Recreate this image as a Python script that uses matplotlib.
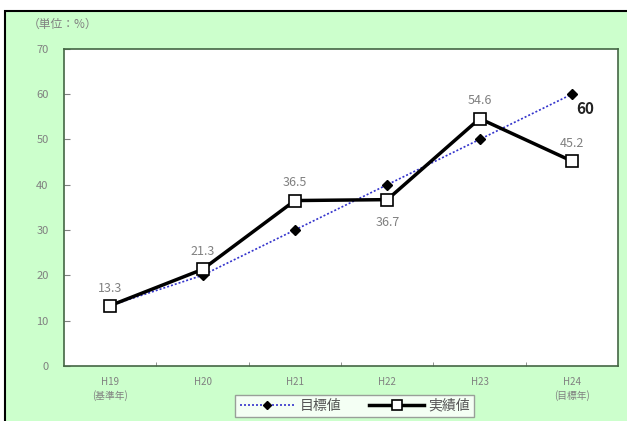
import matplotlib
matplotlib.use("Agg")
import matplotlib.pyplot as plt
from matplotlib.patches import Rectangle

plt.rcParams['font.family'] = ['Noto Sans CJK JP', 'DejaVu Sans']

# categories and values
years = ['H19\n(基準年)', 'H20', 'H21', 'H22', 'H23', 'H24\n(目標年)']
target = [13.3, 20, 30, 40, 50, 60]
actual = [13.3, 21.3, 36.5, 36.7, 54.6, 45.2]
label_below = [False, False, False, True, False, False]

green = '#ccffcc'
grey = '#808080'

fig = plt.figure(figsize=(6.27, 4.21), dpi=100)
fig.patch.set_facecolor('white')

# green panel with black frame on top/left
fig.patches.append(Rectangle((5 / 627, -0.05), 1.1, 0.974 + 0.05,
                             transform=fig.transFigure, facecolor=green,
                             edgecolor='black', linewidth=1.5, zorder=-10))

ax = fig.add_axes([0.102, 0.131, 0.884, 0.753])
ax.set_zorder(1)
ax.set_facecolor('white')
x = list(range(len(years)))

ax.plot(x, target, linestyle=(0, (1.2, 1.2)), color='#3333cc', linewidth=1.2,
        marker='D', markersize=5, markerfacecolor='black',
        markeredgecolor='black', label='目標値', zorder=3)
ax.plot(x, actual, color='black', linewidth=2.5, marker='s', markersize=8.5,
        markerfacecolor='white', markeredgecolor='black',
        markeredgewidth=1.2, label='実績値', zorder=4)

for xi, v, below in zip(x, actual, label_below):
    if below:
        ax.annotate(f'{v}', (xi, v), xytext=(0, -12), textcoords='offset points',
                    ha='center', va='top', color=grey, fontsize=9)
    else:
        ax.annotate(f'{v}', (xi, v), xytext=(0, 8), textcoords='offset points',
                    ha='center', va='bottom', color=grey, fontsize=9)

ax.annotate(f'{target[-1]}', (x[-1], target[-1]), xytext=(3, -5),
            textcoords='offset points', ha='left', va='top',
            fontsize=11, fontweight='bold', color='#222222')

ax.set_xlim(-0.5, len(years) - 0.5)
ax.set_ylim(0, 70)
ax.set_yticks(range(0, 71, 10))
ax.set_xticks(x)
ax.set_xticklabels(years, fontsize=7, color=grey, linespacing=1.4)
ax.set_xticks([i + 0.5 for i in x[:-1]], minor=True)
ax.tick_params(axis='x', which='major', length=0, pad=8)
ax.tick_params(axis='x', which='minor', direction='in', length=3, color=grey)
ax.tick_params(axis='y', direction='in', length=4, color=grey,
               labelsize=8, labelcolor=grey, pad=11)
for s in ax.spines.values():
    s.set_color('#446644')
    s.set_linewidth(1.2)

fig.text(28 / 627, 1 - 24 / 421, '（単位：%）', fontsize=8.5, color=grey,
         ha='left', va='center')

leg = fig.legend(loc='center', bbox_to_anchor=(0.566, 0.036), ncol=2,
                 fontsize=10, frameon=True, fancybox=False, handlelength=4.0,
                 columnspacing=2.0, handletextpad=0.3, borderpad=0.3,
                 markerscale=0.8)
leg.set_zorder(2)
leg.get_frame().set_edgecolor('#888888')
leg.get_frame().set_linewidth(1.0)
for t in leg.get_texts():
    t.set_color('#555555')

fig.savefig('out.png', dpi=100, facecolor=fig.get_facecolor())
